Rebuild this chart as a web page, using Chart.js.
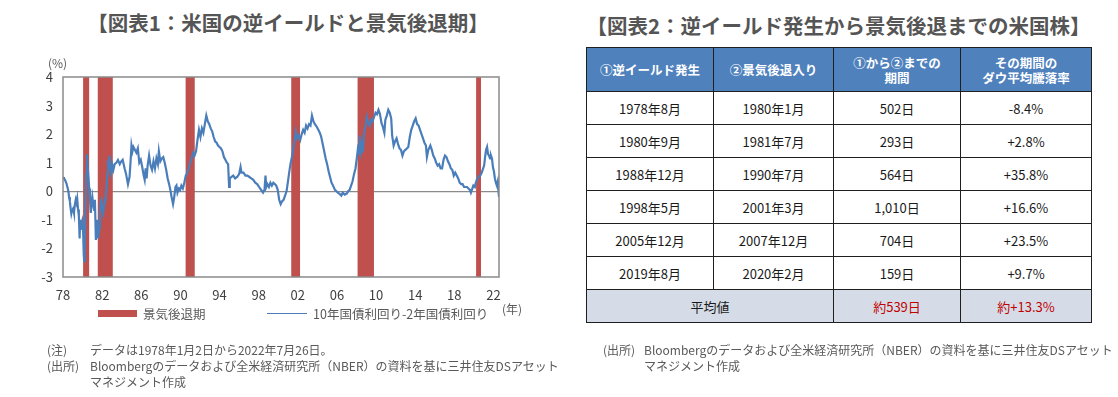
<!DOCTYPE html>
<html lang="ja">
<head>
<meta charset="utf-8">
<title>米国の逆イールドと景気後退期</title>
<script src="https://cdn.jsdelivr.net/npm/chart.js"></script>
<style>
  body { margin: 0; width: 1118px; height: 397px; background: #fff; position: relative; overflow: hidden;
         font-family: "Noto Sans CJK JP", "Noto Sans", sans-serif; color: #595959; }
  .abs { position: absolute; white-space: nowrap; }
  .title { font-size: 20.5px; font-weight: bold; color: #555; text-align: center; line-height: 26px; }
  .note { font-size: 12px; line-height: 16px; color: #595959; }
  #chartBox { position: absolute; left: 0; top: 0; width: 584px; height: 340px; }
  #tbl { position: absolute; left: 586px; top: 47px; width: 505px; border-collapse: collapse; table-layout: fixed;
         font-size: 13px; color: #1a1a1a; }
  #tbl th, #tbl td { border: 1.5px solid #1f1f1f; text-align: center; padding: 0; }
  #tbl th { background: #4F81BD; color: #fff; font-weight: bold; font-size: 12.5px; line-height: 15px; height: 43px; }
  #tbl td { height: 32px; }
  #tbl tr.avg td { background: #D6DCE7; }
  #tbl .red { color: #C00000; }
</style>
</head>
<body>

<div class="abs title" style="left:0;top:9px;width:576px;">【図表1：米国の逆イールドと景気後退期】</div>
<div class="abs title" style="left:586px;top:12px;width:505px;">【図表2：逆イールド発生から景気後退までの米国株】</div>

<div id="chartBox"><canvas id="spreadChart" width="584" height="340"></canvas></div>

<div class="abs note" style="left:48px;top:55px;">(%)</div>
<div class="abs note" style="left:502px;top:301px;">(年)</div>

<!-- legend -->
<div class="abs" style="left:98px;top:310px;width:39px;height:7px;background:#C0504D;"></div>
<div class="abs note" style="left:143px;top:306px;font-size:12.5px;">景気後退期</div>
<div class="abs" style="left:267px;top:313px;width:40px;height:1px;background:#4A7EBB;"></div>
<div class="abs note" style="left:313px;top:306px;font-size:12.5px;">10年国債利回り-2年国債利回り</div>

<!-- notes -->
<div class="abs note" style="left:47px;top:342px;">(注)</div>
<div class="abs note" style="left:90px;top:342px;">データは1978年1月2日から2022年7月26日。</div>
<div class="abs note" style="left:47px;top:358px;">(出所)</div>
<div class="abs note" style="left:90px;top:358px;">Bloombergのデータおよび全米経済研究所（NBER）の資料を基に三井住友DSアセット<br>マネジメント作成</div>

<div class="abs note" style="left:603px;top:342px;">(出所)</div>
<div class="abs note" style="left:644px;top:342px;">Bloombergのデータおよび全米経済研究所（NBER）の資料を基に三井住友DSアセット<br>マネジメント作成</div>

<table id="tbl">
  <colgroup><col style="width:127px"><col style="width:120px"><col style="width:127px"><col style="width:131px"></colgroup>
  <thead><tr id="tblHead"></tr></thead>
  <tbody id="tblBody"></tbody>
</table>

<script>
// 10年-2年 spread (%)
const spreadYears = [
  1978.00, 1978.10, 1978.20, 1978.34, 1978.45, 1978.55, 1978.62, 1978.70, 1978.78, 1978.85, 1978.93,
  1979.03, 1979.12, 1979.22, 1979.30, 1979.37, 1979.45, 1979.54, 1979.62, 1979.70, 1979.75, 1979.82, 1979.90, 1979.99,
  1980.05, 1980.12, 1980.17, 1980.22, 1980.30, 1980.38, 1980.45, 1980.52, 1980.60, 1980.68, 1980.76, 1980.84, 1980.92,
  1981.00, 1981.10, 1981.18, 1981.26, 1981.32, 1981.36, 1981.44, 1981.52, 1981.60, 1981.69, 1981.78, 1981.86, 1981.93,
  1982.02, 1982.10, 1982.20, 1982.30, 1982.38, 1982.45, 1982.52, 1982.60, 1982.68, 1982.77, 1982.85, 1982.94,
  1983.05, 1983.15, 1983.28, 1983.45, 1983.62, 1983.80, 1983.96,
  1984.10, 1984.30, 1984.45, 1984.64, 1984.80, 1984.90,
  1985.00, 1985.10, 1985.20, 1985.35, 1985.50, 1985.65, 1985.80, 1985.95,
  1986.10, 1986.25, 1986.35, 1986.45, 1986.55, 1986.65, 1986.80, 1986.95,
  1987.10, 1987.25, 1987.40, 1987.55, 1987.70, 1987.80, 1987.95,
  1988.10, 1988.25, 1988.40, 1988.55, 1988.70, 1988.85,
  1989.00, 1989.10, 1989.25, 1989.35, 1989.50, 1989.60, 1989.70, 1989.85, 1989.97,
  1990.10, 1990.25, 1990.40, 1990.55, 1990.70, 1990.85,
  1991.00, 1991.15, 1991.30, 1991.45, 1991.60, 1991.75, 1991.90,
  1992.05, 1992.20, 1992.35, 1992.50, 1992.65, 1992.80, 1992.95,
  1993.10, 1993.25, 1993.40, 1993.55, 1993.70, 1993.85,
  1994.00, 1994.15, 1994.30, 1994.45, 1994.60, 1994.75, 1994.88, 1994.98,
  1995.05, 1995.20, 1995.40, 1995.60, 1995.80,
  1996.00, 1996.15, 1996.25, 1996.45, 1996.65, 1996.85,
  1997.05, 1997.25, 1997.45, 1997.65, 1997.85,
  1998.05, 1998.25, 1998.45, 1998.60, 1998.70, 1998.78, 1998.90,
  1999.05, 1999.20, 1999.35, 1999.50, 1999.65, 1999.80, 1999.95,
  2000.10, 2000.25, 2000.40, 2000.55, 2000.70, 2000.85,
  2001.00, 2001.12, 2001.25, 2001.40, 2001.55, 2001.70, 2001.80, 2001.95,
  2002.10, 2002.25, 2002.40, 2002.55, 2002.70, 2002.85,
  2003.00, 2003.15, 2003.30, 2003.45, 2003.60, 2003.75, 2003.95,
  2004.10, 2004.25, 2004.40, 2004.55, 2004.70, 2004.85,
  2005.00, 2005.15, 2005.30, 2005.45, 2005.60, 2005.80, 2005.95,
  2006.10, 2006.30, 2006.45, 2006.60, 2006.80,
  2007.00, 2007.15, 2007.30, 2007.45, 2007.60, 2007.75, 2007.90,
  2008.05, 2008.15, 2008.25, 2008.35, 2008.45, 2008.55, 2008.65, 2008.75, 2008.85, 2008.95,
  2009.05, 2009.20, 2009.35, 2009.50, 2009.65, 2009.80, 2009.95,
  2010.10, 2010.25, 2010.40, 2010.55, 2010.70, 2010.85, 2010.95,
  2011.10, 2011.25, 2011.40, 2011.55, 2011.65, 2011.80, 2011.95,
  2012.10, 2012.25, 2012.40, 2012.55, 2012.70, 2012.85,
  2013.00, 2013.15, 2013.30, 2013.45, 2013.60, 2013.75, 2013.90,
  2014.05, 2014.20, 2014.35, 2014.50, 2014.65, 2014.80, 2014.95,
  2015.10, 2015.20, 2015.35, 2015.55, 2015.70, 2015.85,
  2016.00, 2016.15, 2016.30, 2016.45, 2016.60, 2016.75, 2016.90,
  2017.05, 2017.20, 2017.35, 2017.50, 2017.65, 2017.80, 2017.95,
  2018.10, 2018.25, 2018.40, 2018.55, 2018.70, 2018.85,
  2019.00, 2019.15, 2019.30, 2019.45, 2019.60, 2019.70, 2019.85, 2019.95,
  2020.10, 2020.20, 2020.35, 2020.50, 2020.65, 2020.80, 2020.95,
  2021.05, 2021.15, 2021.25, 2021.35, 2021.45, 2021.55, 2021.65, 2021.75, 2021.85, 2021.95,
  2022.05, 2022.15, 2022.25, 2022.35, 2022.45, 2022.52, 2022.57
];
const spreadValues = [
  0.50, 0.45, 0.40, 0.29, 0.15, 0.00, -0.20, -0.35, -0.60, -0.78, -0.65,
  -0.60, -0.75, -0.45, -0.30, -0.40, -0.25, -0.64, -0.85, -1.65, -1.00, -1.35, -1.10, -1.00,
  -1.30, -2.20, -2.45, -1.90, -0.60, 0.60, 1.30, 0.90, 0.50, 0.10, -0.30, -0.76, -0.40,
  -0.20, -0.50, -0.65, -0.30, -1.10, -1.70, -1.20, -1.00, -1.65, -1.30, -0.80, -0.35, -0.30,
  -0.60, -0.76, -0.50, -0.30, -0.10, 0.10, 0.60, 1.10, 0.90, 1.25, 0.85, 0.65,
  0.90, 0.75, 0.95, 1.00, 1.10, 0.95, 1.05,
  1.10, 0.80, 0.60, 0.25, 0.50, 1.00,
  1.60, 1.40, 1.55, 1.45, 1.35, 1.50, 1.00, 1.10,
  0.85, 0.55, 0.40, 0.80, 0.45, 0.90, 1.25, 0.90,
  0.75, 1.05, 0.80, 1.15, 0.95, 1.40, 1.05,
  1.15, 1.20, 1.00, 0.75, 0.45, 0.25,
  0.00, -0.20, -0.45, -0.25, 0.15, 0.20, -0.05, 0.10, 0.05,
  0.20, 0.10, 0.30, 0.55, 0.65, 0.80,
  1.00, 1.15, 1.35, 1.25, 1.40, 1.80, 2.15,
  1.90, 2.20, 2.05, 2.35, 2.65, 2.45, 2.35,
  2.20, 2.10, 1.90, 1.75, 1.70, 1.60,
  1.55, 1.50, 1.40, 1.20, 1.10, 1.00, 0.95, 0.15,
  0.45, 0.50, 0.55, 0.45, 0.50,
  0.60, 0.85, 0.65, 0.65, 0.55, 0.55,
  0.50, 0.45, 0.40, 0.30, 0.25,
  0.15, 0.05, -0.05, 0.05, 0.55, 0.15, 0.25,
  0.15, 0.30, 0.20, 0.30, 0.25, 0.20, 0.05,
  -0.30, -0.45, -0.35, -0.30, -0.15, 0.00,
  0.35, 0.65, 0.95, 1.20, 1.50, 1.85, 2.10, 1.85,
  1.95, 1.80, 2.00, 2.15, 2.05, 2.30,
  2.20, 2.35, 2.30, 2.65, 2.45, 2.35, 2.25,
  2.15, 2.05, 1.90, 1.65, 1.40, 1.15,
  0.95, 0.70, 0.50, 0.30, 0.20, 0.05, 0.00,
  -0.05, -0.10, -0.15, -0.05, -0.12,
  -0.08, 0.00, 0.05, 0.20, 0.35, 0.60, 0.80,
  1.20, 1.50, 1.40, 1.95, 1.40, 1.60, 1.35, 1.90, 2.20, 2.30,
  2.60, 2.40, 2.30, 2.50, 2.45, 2.60, 2.75,
  2.70, 2.85, 2.70, 2.40, 2.25, 2.05, 2.50,
  2.65, 2.85, 2.75, 2.55, 1.95, 1.60, 1.75,
  1.85, 1.65, 1.50, 1.45, 1.25, 1.40,
  1.45, 1.50, 1.55, 1.90, 2.15, 2.30, 2.45,
  2.55, 2.35, 2.30, 2.15, 2.00, 1.85, 1.70,
  1.60, 1.20, 1.45, 1.60, 1.45, 1.25,
  1.15, 1.00, 0.90, 0.95, 0.80, 0.80, 1.10,
  1.25, 1.20, 1.05, 0.95, 0.80, 0.75, 0.55,
  0.65, 0.55, 0.45, 0.30, 0.25, 0.25,
  0.15, 0.15, 0.15, 0.10, 0.05, -0.05, 0.10, 0.20,
  0.15, 0.30, 0.45, 0.50, 0.55, 0.65, 0.80,
  0.90, 1.20, 1.45, 1.55, 1.30, 1.25, 1.15, 1.25, 1.15, 0.85,
  0.70, 0.45, 0.30, 0.20, 0.35, 0.00, -0.20
];

// 景気後退期 (start / end, decimal year)
const recessionStart = [1980.05, 1981.53, 1990.51, 2001.32, 2008.09, 2020.23];
const recessionEnd   = [1980.70, 1983.10, 1991.48, 2002.25, 2009.79, 2020.74];

const xTickYears = [1978, 1982, 1986, 1990, 1994, 1998, 2002, 2006, 2010, 2014, 2018, 2022];
const xMin = 1978.0, xMax = 2022.57;
const yMin = -3, yMax = 4;

// table
const tableHeaders = ['①逆イールド発生', '②景気後退入り', '①から②までの<br>期間', 'その期間の<br>ダウ平均騰落率'];
const inversionMonths = ['1978年8月', '1980年9月', '1988年12月', '1998年5月', '2005年12月', '2019年8月'];
const recessionMonths = ['1980年1月', '1981年7月', '1990年7月', '2001年3月', '2007年12月', '2020年2月'];
const leadDays = ['502日', '293日', '564日', '1,010日', '704日', '159日'];
const dowChange = ['-8.4%', '+2.8%', '+35.8%', '+16.6%', '+23.5%', '+9.7%'];
const averageLabel = '平均値';
const averageDays = '約539日';
const averageChange = '約+13.3%';

function $(sel) { return document.querySelector(sel); }

function buildTable() {
    $('#tblHead').innerHTML = tableHeaders.map(h => `<th>${h}</th>`).join('');
    let html = '';
    inversionMonths.forEach((m, i) => {
        html += `<tr>
                <td>${m}</td>
                <td>${recessionMonths[i]}</td>
                <td>${leadDays[i]}</td>
                <td>${dowChange[i]}</td>
            </tr>`;
    });
    html += `<tr class="avg">
            <td colspan="2">${averageLabel}</td>
            <td class="red">${averageDays}</td>
            <td class="red">${averageChange}</td>
        </tr>`;
    $('#tblBody').innerHTML = html;
}

// gray frame round the plot area
const plotFrame = {
    id: 'plotFrame',
    afterDatasetsDraw(chart) {
        const a = chart.chartArea, ctx = chart.ctx;
        ctx.save();
        ctx.strokeStyle = '#8a8a8a';
        ctx.lineWidth = 1.5;
        ctx.strokeRect(a.left, a.top, a.right - a.left, a.bottom - a.top);
        ctx.restore();
    }
};

function drawChart() {
    // recession bands: flat segment at the top, filled down to the axis bottom
    const bands = [];
    recessionStart.forEach((s, i) => {
        bands.push({ x: s, y: yMax }, { x: recessionEnd[i], y: yMax }, { x: recessionEnd[i], y: null });
    });
    const spread = spreadYears.map((x, i) => ({ x, y: spreadValues[i] }));

    const tickFont = { family: '"Noto Sans CJK JP", "Noto Sans", sans-serif', size: 13 };

    new Chart(document.getElementById('spreadChart'), {
        type: 'line',
        data: {
            datasets: [{
                label: '10年国債利回り-2年国債利回り',
                data: spread,
                borderColor: '#4A7EBB',
                borderWidth: 2.2,
                pointRadius: 0,
                tension: 0,
                fill: false,
                order: 0
            }, {
                label: '景気後退期',
                data: bands,
                borderWidth: 0,
                borderColor: 'rgba(0,0,0,0)',
                backgroundColor: '#C0504D',
                pointRadius: 0,
                fill: 'start',
                spanGaps: false,
                order: 1
            }]
        },
        options: {
            responsive: false,
            animation: false,
            layout: { padding: { left: 0, right: 85, top: 77, bottom: 33 } },
            plugins: { legend: { display: false }, tooltip: { enabled: false } },
            scales: {
                x: {
                    type: 'linear',
                    min: xMin,
                    max: xMax,
                    afterBuildTicks: scale => { scale.ticks = xTickYears.map(v => ({ value: v })); },
                    afterFit: scale => { scale.height = 30; },
                    grid: { display: false, drawTicks: false },
                    border: { display: false },
                    ticks: {
                        autoSkip: false, maxRotation: 0, padding: 10,
                        color: '#404040', font: tickFont,
                        callback: v => String(v).slice(2)
                    }
                },
                y: {
                    min: yMin,
                    max: yMax,
                    afterFit: scale => { scale.width = 63; },
                    grid: {
                        drawTicks: false,
                        color: ctx => ctx.tick && ctx.tick.value === 0 ? '#8a8a8a' : 'rgba(0,0,0,0)',
                        lineWidth: 1.3
                    },
                    border: { display: false },
                    ticks: { stepSize: 1, padding: 10, color: '#404040', font: tickFont }
                }
            }
        },
        plugins: [plotFrame]
    });
}

buildTable();
drawChart();
</script>
</body>
</html>
